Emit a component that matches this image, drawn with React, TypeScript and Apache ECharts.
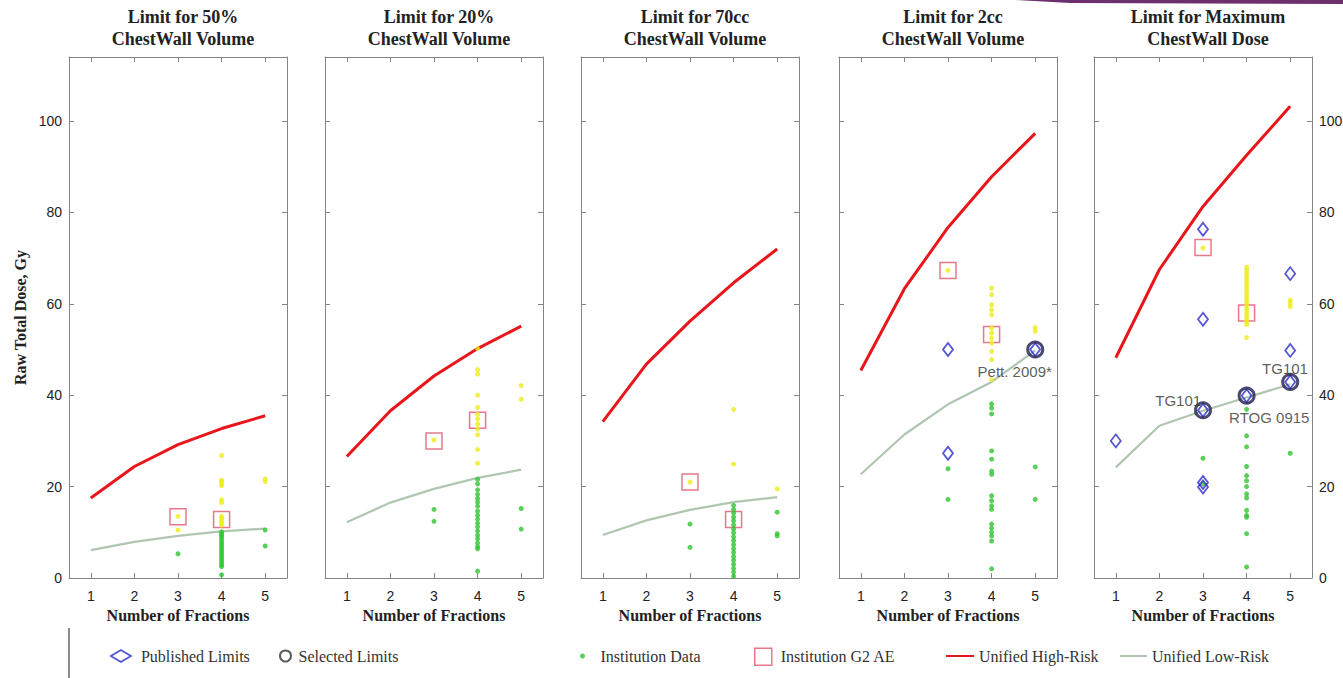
import React, { useEffect, useRef } from 'react';
import * as echarts from 'echarts';

// ---------- data ----------
const fractions = [1, 2, 3, 4, 5];
const xTicks = [1, 2, 3, 4, 5];
const yTicks = [0, 20, 40, 60, 80, 100];

const panelTitles = [
  'Limit for 50%\nChestWall Volume',
  'Limit for 20%\nChestWall Volume',
  'Limit for 70cc\nChestWall Volume',
  'Limit for 2cc\nChestWall Volume',
  'Limit for Maximum\nChestWall Dose',
];

// Unified High-Risk curves (dose at 1..5 fractions)
const high50 = [17.5, 24.4, 29.2, 32.7, 35.5];
const high20 = [26.6, 36.6, 44.2, 50.2, 55.1];
const high70cc = [34.2, 46.8, 56.2, 64.6, 72.0];
const high2cc = [45.4, 63.3, 76.7, 87.8, 97.3];
const highMax = [48.2, 67.5, 81.3, 92.5, 103.2];

// Unified Low-Risk curves
const low50 = [6.1, 7.9, 9.2, 10.2, 10.8];
const low20 = [12.2, 16.5, 19.5, 21.9, 23.7];
const low70cc = [9.4, 12.6, 14.9, 16.6, 17.7];
const low2cc = [22.7, 31.4, 38.0, 42.9, 49.8];
const lowMax = [24.2, 33.3, 36.6, 39.5, 42.4];

// Institution G2 AE (fraction, dose)
const g2ae50 = [[3, 13.4], [4, 12.8]];
const g2ae20 = [[3, 30.0], [4, 34.5]];
const g2ae70cc = [[3, 21.0], [4, 12.8]];
const g2ae2cc = [[3, 67.3], [4, 53.3]];
const g2aeMax = [[3, 72.3], [4, 58.0]];

// Published limits (fraction, dose)
const pub50: number[][] = [];
const pub20: number[][] = [];
const pub70cc: number[][] = [];
const pub2cc = [[3, 50.0], [3, 27.3], [5, 50.0]];
const pubMax = [[1, 30.0], [3, 76.3], [3, 56.6], [3, 36.7], [3, 20.9], [3, 19.9], [4, 39.9], [5, 66.6], [5, 49.8], [5, 42.9]];

// Selected limits (fraction, dose)
const sel50: number[][] = [];
const sel20: number[][] = [];
const sel70cc: number[][] = [];
const sel2cc = [[5, 50.0]];
const selMax = [[3, 36.7], [4, 39.9], [5, 42.9]];

// Institution data: doses by number of fractions
const inst50: Record<number, number[]> = {
  3: [13.5, 10.5, 5.3],
  4: [26.8, 21.4, 21.0, 20.6, 20.2, 17.1, 16.5, 13.5, 13.0, 12.5, 12.0, 11.6, 10.1, 9.7, 9.3, 8.9, 8.4, 7.9, 7.4, 6.9, 6.4, 5.9, 5.4, 4.9, 4.4, 3.9, 3.4, 2.9, 2.5, 0.7],
  5: [21.7, 21.1, 10.5, 7.0],
};
const inst20: Record<number, number[]> = {
  3: [30.2, 15.0, 12.4],
  4: [50.2, 45.6, 44.6, 40.0, 37.3, 35.8, 34.8, 33.7, 32.6, 31.3, 28.1, 25.1, 21.6, 20.6, 19.3, 18.3, 17.4, 16.6, 15.7, 14.6, 13.7, 12.9, 12.0, 11.2, 10.3, 9.4, 8.6, 7.7, 6.9, 6.4, 1.5],
  5: [42.1, 39.1, 15.2, 10.7],
};
const inst70cc: Record<number, number[]> = {
  3: [21.0, 11.8, 6.7],
  4: [36.9, 24.9, 15.9, 15.0, 14.2, 13.3, 12.5, 11.6, 10.7, 9.9, 9.0, 8.2, 7.3, 6.4, 5.6, 4.7, 3.9, 3.0, 2.1, 1.3, 0.4],
  5: [19.5, 14.4, 9.7, 9.2],
};
const inst2cc: Record<number, number[]> = {
  3: [67.3, 23.9, 17.2],
  4: [63.4, 62.0, 59.8, 58.7, 57.6, 54.7, 53.6, 52.5, 51.4, 49.6, 47.8, 43.4, 38.1, 37.2, 35.9, 27.8, 26.0, 23.4, 22.7, 18.0, 16.9, 15.8, 15.0, 11.8, 10.9, 10.0, 9.2, 8.1, 2.0],
  5: [54.8, 54.0, 24.3, 17.2],
};
const instMax: Record<number, number[]> = {
  3: [72.2, 26.2, 20.6],
  4: [68.0, 67.3, 66.6, 65.9, 65.2, 64.5, 63.8, 63.1, 62.4, 61.7, 61.0, 60.3, 59.6, 58.9, 58.2, 57.5, 56.8, 56.1, 55.5, 52.6, 36.9, 31.1, 28.7, 24.4, 22.4, 21.3, 20.0, 18.4, 17.5, 14.8, 13.7, 13.3, 9.7, 2.4],
  5: [60.8, 60.1, 59.4, 27.3],
};

// Annotations (fraction, dose, text)
const notes2cc: [number, number, string][] = [[4.53, 45.1, 'Pett. 2009*']];
const notesMax: [number, number, string][] = [
  [2.43, 38.9, 'TG101'],
  [4.52, 35.2, 'RTOG 0915'],
  [4.88, 45.9, 'TG101'],
];

const panels = [
  { high: high50, low: low50, g2: g2ae50, pub: pub50, sel: sel50, inst: inst50, notes: [] as [number, number, string][] },
  { high: high20, low: low20, g2: g2ae20, pub: pub20, sel: sel20, inst: inst20, notes: [] as [number, number, string][] },
  { high: high70cc, low: low70cc, g2: g2ae70cc, pub: pub70cc, sel: sel70cc, inst: inst70cc, notes: [] as [number, number, string][] },
  { high: high2cc, low: low2cc, g2: g2ae2cc, pub: pub2cc, sel: sel2cc, inst: inst2cc, notes: notes2cc },
  { high: highMax, low: lowMax, g2: g2aeMax, pub: pubMax, sel: selMax, inst: instMax, notes: notesMax },
];

// ---------- layout / style ----------
const panelLefts = [69, 325, 581, 839, 1094];
const PW = 218;
const PT = 57;
const PH = 521;
const FRAME = '#858585';
const SERIF = '"Liberation Serif", "Times New Roman", serif';
const SANS = '"Liberation Sans", Arial, sans-serif';
const RED = '#e8161b';
const LOWC = '#b0c6b0';
const GREEN = '#30c530';
const YELLOW = '#ecec1a';
const SQ = '#e0566c';
const BLUE = '#2a2ac8';
const NAVY = '#1c1c50';

function buildOption() {
  const grid: any[] = [];
  const xAxis: any[] = [];
  const yAxis: any[] = [];
  const title: any[] = [];
  const series: any[] = [];

  panels.forEach((p, i) => {
    const left = panelLefts[i];
    grid.push({ left, top: PT, width: PW, height: PH, containLabel: false, outerBoundsMode: 'none' });
    title.push({
      text: panelTitles[i],
      left: left + PW / 2,
      top: 1,
      textAlign: 'center',
      textStyle: { fontFamily: SERIF, fontWeight: 'bold', fontSize: 18, lineHeight: 22, color: '#222' },
    });
    const tickStyle = { inside: true, length: 5, lineStyle: { color: FRAME, width: 1 } };
    const lineStyle = { show: true, onZero: false, lineStyle: { color: FRAME, width: 1 } };
    xAxis.push({
      type: 'value', gridIndex: i, position: 'bottom', min: 0.5, max: 5.5,
      axisLine: lineStyle, splitLine: { show: false },
      axisTick: { ...tickStyle, customValues: xTicks },
      axisLabel: { customValues: xTicks, margin: 11, fontSize: 14, color: '#222', fontFamily: SANS },
      name: 'Number of Fractions', nameLocation: 'middle', nameGap: 28,
      nameTextStyle: { fontFamily: SERIF, fontWeight: 'bold', fontSize: 16, color: '#222' },
    });
    xAxis.push({
      type: 'value', gridIndex: i, position: 'top', min: 0.5, max: 5.5,
      axisLine: lineStyle, splitLine: { show: false },
      axisTick: { ...tickStyle, customValues: xTicks },
      axisLabel: { show: false },
    });
    yAxis.push({
      type: 'value', gridIndex: i, position: 'left', min: 0, max: 114,
      axisLine: lineStyle, splitLine: { show: false },
      axisTick: { ...tickStyle, customValues: yTicks },
      axisLabel: { show: i === 0, customValues: yTicks, margin: 7, fontSize: 14, color: '#222', fontFamily: SANS },
      name: i === 0 ? 'Raw Total Dose, Gy' : '',
      nameLocation: 'middle', nameGap: 41, nameRotate: 90,
      nameTextStyle: { fontFamily: SERIF, fontWeight: 'bold', fontSize: 16, color: '#222' },
    });
    yAxis.push({
      type: 'value', gridIndex: i, position: 'right', min: 0, max: 114,
      axisLine: lineStyle, splitLine: { show: false },
      axisTick: { ...tickStyle, customValues: yTicks },
      axisLabel: { show: i === 4, customValues: yTicks, margin: 7, fontSize: 14, color: '#222', fontFamily: SANS },
    });

    const xi = 2 * i;
    const yi = 2 * i;
    const below: number[][] = [];
    const above: number[][] = [];
    Object.keys(p.inst).forEach((k) => {
      const f = Number(k);
      p.inst[f].forEach((v) => {
        if (v > p.low[f - 1]) above.push([f, v]);
        else below.push([f, v]);
      });
    });

    series.push({
      type: 'line', name: 'Unified Low-Risk', xAxisIndex: xi, yAxisIndex: yi,
      data: fractions.map((f, k) => [f, p.low[k]]), symbol: 'none',
      lineStyle: { color: LOWC, width: 2.2 }, itemStyle: { color: LOWC }, z: 2, silent: true,
    });
    series.push({
      type: 'line', name: 'Unified High-Risk', xAxisIndex: xi, yAxisIndex: yi,
      data: fractions.map((f, k) => [f, p.high[k]]), symbol: 'none',
      lineStyle: { color: RED, width: 3 }, itemStyle: { color: RED }, z: 3, silent: true,
    });
    series.push({
      type: 'scatter', name: 'Institution G2 AE', xAxisIndex: xi, yAxisIndex: yi,
      data: p.g2, symbol: 'rect', symbolSize: 16,
      itemStyle: { color: 'transparent', borderColor: SQ, borderWidth: 1.5 }, z: 3, silent: true,
    });
    series.push({
      type: 'scatter', name: 'Institution Data', xAxisIndex: xi, yAxisIndex: yi,
      data: below, symbol: 'circle', symbolSize: 5,
      itemStyle: { color: GREEN }, z: 4, silent: true,
    });
    series.push({
      type: 'scatter', name: 'Institution Data (above low-risk)', xAxisIndex: xi, yAxisIndex: yi,
      data: above, symbol: 'circle', symbolSize: 5,
      itemStyle: { color: YELLOW }, z: 4, silent: true,
    });
    series.push({
      type: 'scatter', name: 'Published Limits', xAxisIndex: xi, yAxisIndex: yi,
      data: p.pub, symbol: 'diamond', symbolSize: [10, 13],
      itemStyle: { color: 'transparent', borderColor: BLUE, borderWidth: 1.8 }, z: 5, silent: true,
    });
    series.push({
      type: 'scatter', name: 'Selected Limits', xAxisIndex: xi, yAxisIndex: yi,
      data: p.sel, symbol: 'circle', symbolSize: 15,
      itemStyle: { color: 'transparent', borderColor: NAVY, borderWidth: 3 }, z: 6, silent: true,
    });
    if (p.notes.length) {
      series.push({
        type: 'scatter', name: 'annotations', xAxisIndex: xi, yAxisIndex: yi,
        data: p.notes.map((n) => ({ value: [n[0], n[1]], name: n[2] })),
        symbolSize: 1, itemStyle: { color: 'transparent' }, z: 7, silent: true,
        label: {
          show: true, position: 'inside', formatter: '{b}',
          fontSize: 15, color: '#333', fontFamily: SANS,
        },
      });
    }
  });

  const TEXT_H = 16;
  const legendBase = {
    padding: 0, selectedMode: false, orient: 'horizontal',
    textStyle: { fontFamily: SERIF, fontSize: 16, color: '#333' },
  };
  const mkLegend = (name: string, left: number, w: number, h: number, extra: any = {}, pad = 0) => ({
    ...legendBase,
    left, top: 656 - Math.max(h, TEXT_H) / 2, itemWidth: w, itemHeight: h,
    textStyle: { ...legendBase.textStyle, padding: [0, 0, 0, pad] },
    data: [{ name, ...extra }],
  });
  const legend = [
    mkLegend('Published Limits', 110, 20, 12, { icon: 'diamond', itemStyle: { color: 'transparent', borderColor: BLUE, borderWidth: 1.8 } }, 5),
    mkLegend('Selected Limits', 279, 16, 11, { icon: 'circle', itemStyle: { color: 'transparent', borderColor: '#333', borderWidth: 2 } }, 0),
    mkLegend('Institution Data', 580, 16, 5, { icon: 'circle', itemStyle: { color: GREEN } }, 5),
    mkLegend('Institution G2 AE', 754, 17, 17, { icon: 'rect', itemStyle: { color: 'transparent', borderColor: SQ, borderWidth: 1.5 } }, 4),
    mkLegend('Unified High-Risk', 945, 28, 3, { itemStyle: { opacity: 0 } }, 0),
    mkLegend('Unified Low-Risk', 1119, 27, 2, { itemStyle: { opacity: 0 } }, 0),
  ];

  return {
    animation: false,
    backgroundColor: '#ffffff',
    title,
    grid,
    xAxis,
    yAxis,
    legend,
    series,
    graphic: [
      {
        type: 'polygon', silent: true,
        shape: { points: [[1015, 0], [1343, 0], [1343, 4], [1070, 3]] },
        style: { fill: '#6d2f6d' },
      },
      {
        type: 'line', silent: true,
        shape: { x1: 69, y1: 628, x2: 69, y2: 678 },
        style: { stroke: '#666', lineWidth: 1.5 },
      },
    ],
  };
}

export default function App() {
  const ref = useRef<HTMLDivElement>(null);
  useEffect(() => {
    if (!ref.current) return;
    const chart = echarts.init(ref.current, null, { renderer: 'svg' });
    chart.setOption(buildOption() as any);
    return () => chart.dispose();
  }, []);
  return (
    <div
      ref={ref}
      style={{ position: 'fixed', left: 0, top: 0, width: 1343, height: 678, background: '#fff' }}
    />
  );
}
